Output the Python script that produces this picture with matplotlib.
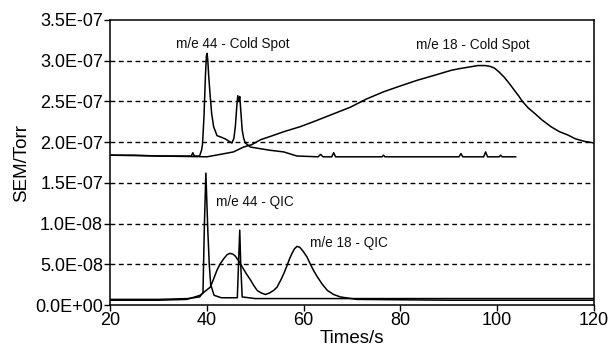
import matplotlib
matplotlib.use("Agg")
import matplotlib.pyplot as plt
import numpy as np

plt.rcParams['font.family'] = ['Liberation Sans', 'DejaVu Sans']

# values, in units of 1e-7 Torr
cold44_x = [20, 25, 30, 34, 36.8, 37.1, 37.4, 38.5, 38.9, 39.1, 39.4, 39.7, 39.9, 40.05,
            40.2, 40.4, 40.7, 41.0, 41.4, 42.1, 43.0, 43.8, 44.6, 45.2, 45.6, 45.9, 46.2,
            46.4, 46.6, 46.8, 47.0, 47.3, 47.6, 47.95, 49.0, 51.0, 53.1, 55.9, 57.5, 58.6,
            63.0, 63.5, 64.0, 65.8, 66.2, 66.6, 76.2, 76.5, 76.8, 92.1, 92.5, 92.9, 97.2,
            97.6, 98.0, 100.4, 100.7, 101.0, 103.8]
cold44_y = [1.84, 1.84, 1.83, 1.83, 1.83, 1.87, 1.83, 1.83, 1.90, 1.97, 2.3, 2.8, 3.05, 3.09,
            3.0, 2.8, 2.56, 2.35, 2.19, 2.08, 2.06, 2.04, 2.01, 1.99, 2.05, 2.2, 2.45,
            2.57, 2.5, 2.56, 2.4, 2.15, 2.05, 1.99, 1.94, 1.92, 1.90, 1.88, 1.85, 1.83,
            1.82, 1.85, 1.82, 1.82, 1.87, 1.82, 1.82, 1.84, 1.82, 1.82, 1.86, 1.82, 1.82,
            1.88, 1.82, 1.82, 1.84, 1.82, 1.82]

cold18_x = [20, 30, 40, 42.8, 45.5, 47.6, 49.3, 51.1, 53.1, 56.0, 59.3, 62.0, 65.0, 69.7,
            73.0, 76.6, 80.0, 83.5, 87.0, 90.4, 92.0, 94.0, 96.0, 97.5, 98.5, 99.4, 100.4,
            101.4, 102.5, 103.5, 104.4, 105.2, 106.4, 107.6, 109.3, 111.1, 112.8, 114.5,
            116.2, 118.0, 120.0]
cold18_y = [1.84, 1.83, 1.82, 1.85, 1.88, 1.94, 1.97, 2.03, 2.07, 2.13, 2.19, 2.25, 2.32, 2.43,
            2.53, 2.62, 2.69, 2.76, 2.82, 2.88, 2.90, 2.92, 2.94, 2.94, 2.93, 2.91, 2.86,
            2.80, 2.72, 2.64, 2.57, 2.50, 2.42, 2.36, 2.27, 2.19, 2.13, 2.09,
            2.04, 2.01, 1.99]

qic44_x = [20, 30, 36, 38.5, 39.2, 39.5, 39.8, 40.2, 40.5, 40.8, 41.5, 43.0, 46.3,
           46.6, 46.8, 47.0, 47.3, 50, 60, 80, 100, 120]
qic44_y = [0.07, 0.07, 0.08, 0.10, 0.15, 1.0, 1.62, 0.92, 0.5, 0.25, 0.12, 0.09, 0.09,
           0.6, 0.92, 0.5, 0.10, 0.08, 0.08, 0.08, 0.08, 0.08]

qic18_x = [20, 30, 35.9, 38.6, 40.7, 41.4, 42.1, 42.8, 43.5, 44.2, 44.8, 45.4, 45.9, 46.6,
           47.3, 48.1, 49.0, 49.7, 50.4, 51.2, 52.1, 53.0, 53.8, 54.5, 55.3, 56.0, 56.6,
           57.1, 57.6, 58.1, 58.6, 59.2, 59.9, 60.7, 61.4, 62.1, 62.8, 63.8, 64.9, 66.2,
           67.6, 71.0, 90, 120]
qic18_y = [0.06, 0.06, 0.07, 0.12, 0.22, 0.32, 0.43, 0.51, 0.57, 0.62, 0.635, 0.625, 0.60, 0.54,
           0.47, 0.39, 0.31, 0.24, 0.18, 0.15, 0.13, 0.15, 0.18, 0.22, 0.31, 0.40, 0.49,
           0.57, 0.635, 0.69, 0.72, 0.71, 0.66, 0.59, 0.50, 0.42, 0.35, 0.26, 0.18, 0.13,
           0.10, 0.07, 0.06, 0.06]

yticks = [0, 0.5, 1.0, 1.5, 2.0, 2.5, 3.0, 3.5]
ytick_labels = ["0.0E+00", "5.0E-08", "1.0E-08", "1.5E-07", "2.0E-07", "2.5E-07", "3.0E-07", "3.5E-07"]
xticks = [20, 40, 60, 80, 100, 120]

labels = ["m/e 44 - Cold Spot", "m/e 18 - Cold Spot", "m/e 44 - QIC", "m/e 18 - QIC"]
label_pos = [(45.3, 3.21), (94.9, 3.19), (50.0, 1.265), (69.3, 0.76)]

scale = 1e-7

fig = plt.figure(figsize=(6.08, 3.56), dpi=100)
ax = fig.add_axes([0.181, 0.143, 0.796, 0.801])

for gy in yticks[1:-1]:
    ax.axhline(gy * scale, color='black', lw=1.0, ls=(0, (3.5, 2.5)), zorder=1)

for xs, ys in [(cold18_x, cold18_y), (cold44_x, cold44_y), (qic18_x, qic18_y), (qic44_x, qic44_y)]:
    ax.plot(xs, np.array(ys) * scale, color='black', lw=1.1, zorder=3)

for txt, (tx, ty) in zip(labels, label_pos):
    ax.text(tx, ty * scale, txt, fontsize=9.8, ha='center', va='center', color='#111111')

ax.set_xlim(20, 120)
ax.set_ylim(0, 3.5 * scale)
ax.set_xticks(xticks)
ax.set_xticklabels([str(v) for v in xticks])
ax.set_yticks([v * scale for v in yticks])
ax.set_yticklabels(ytick_labels)
ax.tick_params(axis='both', labelsize=13, direction='out', length=4, width=1, pad=1)
for sp in ax.spines.values():
    sp.set_linewidth(1.1)

ax.set_xlabel("Times/s", fontsize=13.5, labelpad=1)
ax.set_ylabel("SEM/Torr", fontsize=13.5, labelpad=4)

fig.savefig("out.png", dpi=100)
